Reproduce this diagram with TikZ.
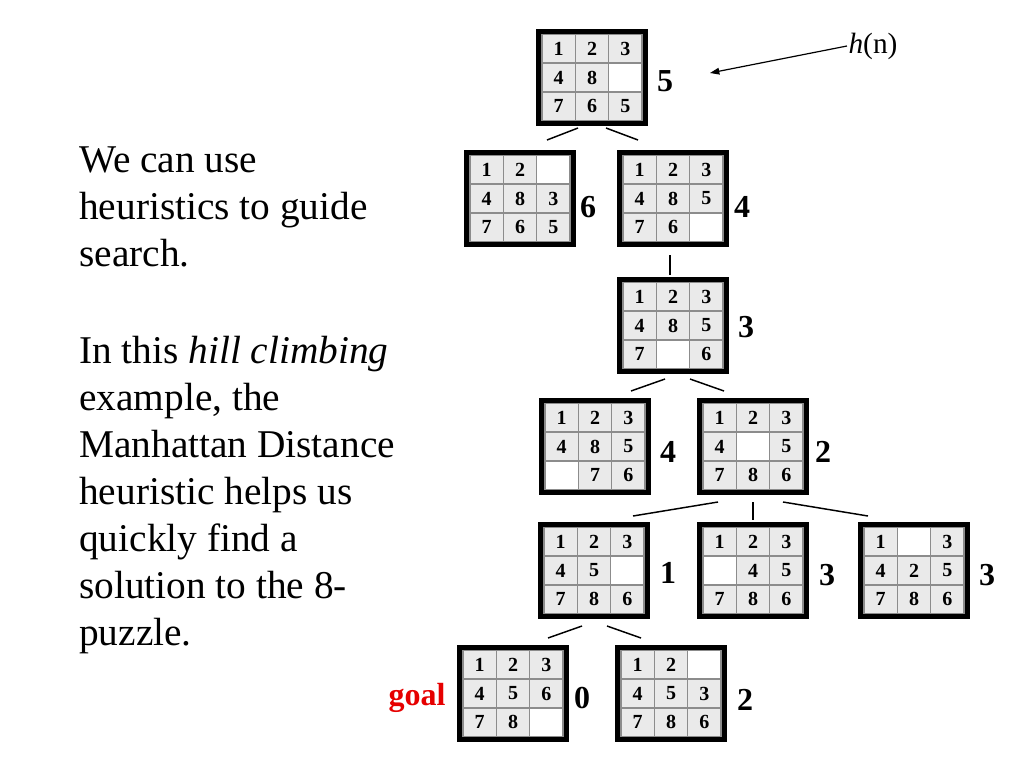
\documentclass[tikz,border=0pt]{standalone}
\usepackage{fontspec}
\setmainfont{Liberation Serif}
\usetikzlibrary{calc,arrows.meta}
\definecolor{cellgray}{HTML}{EAEAEA}
\definecolor{cellline}{HTML}{8C8C8C}
\definecolor{goalred}{HTML}{E60000}
\tikzset{
 frame/.style={draw=black, line width=3.75pt, minimum width=80.25pt, minimum height=69pt, inner sep=0pt},
 cellbox/.style={draw=cellline, line width=1.1pt, fill=cellgray, minimum width=25pt, minimum height=21.5pt, inner sep=0pt, font=\bfseries\fontsize{15}{17}\selectfont},
 hval/.style={font=\bfseries\fontsize{24}{28}\selectfont, inner sep=0pt},
 conn/.style={line width=1.1pt, draw=black},
 body/.style={font=\fontsize{29.5}{35.25}\selectfont, align=left, anchor=north west, inner sep=0pt}
}
\newcommand{\puz}[4]{%
  \foreach \v [count=\i from 0] in {#4} {%
    \pgfmathtruncatemacro{\cc}{mod(\i,3)}%
    \pgfmathtruncatemacro{\rr}{div(\i,3)}%
    \ifnum\v=0
      \node[cellbox, fill=white] (#1c\i) at ($(#2,#3)+({(\cc-1)*33.333},{(\rr-1)*28.667})$) {};
    \else
      \node[cellbox] (#1c\i) at ($(#2,#3)+({(\cc-1)*33.333},{(\rr-1)*28.667})$) {\v};
    \fi
  }%
  \node[frame] (#1) at (#2,#3) {};
}
\begin{document}
\begin{tikzpicture}[x=0.75pt, y=-0.75pt]
\useasboundingbox (0,0) rectangle (1024,768);
% text
\node[body] (para1) at (79,146) {We can use\\heuristics to guide\\search.};
\node[body] (para2) at (79,336) {In this \textit{hill climbing}\\example, the\\Manhattan Distance\\heuristic helps us\\quickly find a\\solution to the 8-\\puzzle.};
% boards
\puz{b1}{592}{77.5}{1,2,3,4,8,0,7,6,5}
\puz{b2a}{520}{198.5}{1,2,0,4,8,3,7,6,5}
\puz{b2b}{673}{198.5}{1,2,3,4,8,5,7,6,0}
\puz{b3}{673}{325.5}{1,2,3,4,8,5,7,0,6}
\puz{b4a}{595}{446.5}{1,2,3,4,8,5,0,7,6}
\puz{b4b}{753}{446.5}{1,2,3,4,0,5,7,8,6}
\puz{b5a}{594}{570.5}{1,2,3,4,5,0,7,8,6}
\puz{b5b}{753}{570.5}{1,2,3,0,4,5,7,8,6}
\puz{b5c}{914}{570.5}{1,0,3,4,2,5,7,8,6}
\puz{b6a}{513}{693.5}{1,2,3,4,5,6,7,8,0}
\puz{b6b}{671}{693.5}{1,2,0,4,5,3,7,8,6}
% heuristic values
\node[hval] (v1) at (665,81) {5};
\node[hval] (v2a) at (588,207) {6};
\node[hval] (v2b) at (742,207) {4};
\node[hval] (v3) at (746,327) {3};
\node[hval] (v4a) at (668,452) {4};
\node[hval] (v4b) at (823,452) {2};
\node[hval] (v5a) at (668,573) {1};
\node[hval] (v5b) at (827,575) {3};
\node[hval] (v5c) at (987,575) {3};
\node[hval] (v6a) at (582,698) {0};
\node[hval] (v6b) at (745,700) {2};
\node[hval, text=goalred] (goal) at (417,698) {goal};
% h(n) label and arrow
\node[font=\fontsize{22}{26}\selectfont, inner sep=0pt] (hn) at (873,46) {\textit{h}(n)};
\coordinate (hntip) at (710,73);
\draw[line width=0.9pt, -{Triangle[length=7pt,width=5pt]}] ([xshift=-1pt]hn.west) -- (hntip);
% connectors
\draw[conn] ([shift={(-14,50.5)}]b1.center) -- ([shift={(27,-58.5)}]b2a.center);
\draw[conn] ([shift={(14,50.5)}]b1.center) -- ([shift={(-35,-58.5)}]b2b.center);
\draw[conn] ([shift={(-3,56.5)}]b2b.center) -- ([shift={(-3,-50.5)}]b3.center);
\draw[conn] ([shift={(-8,53.5)}]b3.center) -- ([shift={(36,-55.5)}]b4a.center);
\draw[conn] ([shift={(17,53.5)}]b3.center) -- ([shift={(-29,-55.5)}]b4b.center);
\draw[conn] ([shift={(-35,55.5)}]b4b.center) -- ([shift={(39,-54.5)}]b5a.center);
\draw[conn] ([shift={(0,55.5)}]b4b.center) -- ([shift={(0,-50.5)}]b5b.center);
\draw[conn] ([shift={(30,55.5)}]b4b.center) -- ([shift={(-46,-54.5)}]b5c.center);
\draw[conn] ([shift={(-12,55.5)}]b5a.center) -- ([shift={(35,-55.5)}]b6a.center);
\draw[conn] ([shift={(13,55.5)}]b5a.center) -- ([shift={(-30,-55.5)}]b6b.center);
\end{tikzpicture}
\end{document}
